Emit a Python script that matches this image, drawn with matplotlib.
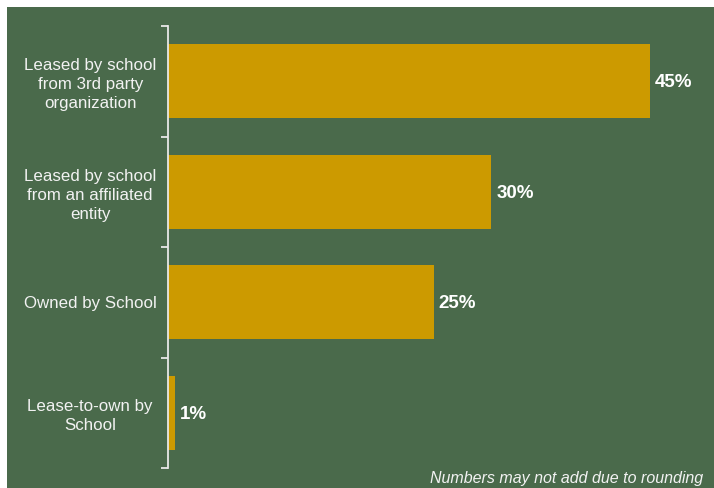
import matplotlib.pyplot as plt

categories = ['Leased by school\nfrom 3rd party\norganization',
              'Leased by school\nfrom an affiliated\nentity',
              'Owned by School',
              'Lease-to-own by\nSchool']
shares = [45, 30.2, 24.8, 0.7]
share_labels = ['45%', '30%', '25%', '1%']

bg = '#4a6a4b'
bar_color = '#cc9a00'
text_color = '#f2f2f2'

plt.rcParams['font.family'] = ['Liberation Sans', 'DejaVu Sans']

fig = plt.figure(figsize=(7.14, 4.88), dpi=100)
fig.patch.set_facecolor('white')
# green panel, leaving a thin white edge at top and left
fig.patches.append(plt.Rectangle((7 / 714, 0), 1, 1 - 7 / 488, transform=fig.transFigure,
                                 facecolor=bg, edgecolor='none', zorder=-10))

ax = fig.add_axes([168 / 714, 20 / 488, 546 / 714, 442 / 488])
ax.set_facecolor('none')

y = list(range(len(categories)))
ax.barh(y, shares, height=0.67, color=bar_color, zorder=2)
ax.set_ylim(len(categories) - 0.5, -0.5)
ax.set_xlim(0, 51)

for yi, v, lab in zip(y, shares, share_labels):
    ax.text(v + 0.45, yi + 0.015, lab, va='center', ha='left', color='white',
            fontsize=13.5, fontweight='bold')

# category boundaries as ticks
ax.set_yticks([i - 0.5 for i in range(len(categories) + 1)])
ax.set_yticklabels([])
ax.tick_params(axis='y', direction='out', length=5, width=1.3, color='#e8e8e8')
ax.set_yticks(y, minor=True)
ax.set_yticklabels(categories, minor=True, fontsize=12.2, color=text_color,
                   linespacing=1.33, ha='center')
ax.tick_params(axis='y', which='minor', length=0, pad=56)

ax.set_xticks([])
for side in ['top', 'right', 'bottom']:
    ax.spines[side].set_visible(False)
ax.spines['left'].set_color('#e8e8e8')
ax.spines['left'].set_linewidth(1.3)

fig.text(703 / 714, 9 / 488, 'Numbers may not add due to rounding', ha='right', va='center',
         fontsize=11.5, style='italic', color=text_color)

fig.savefig('out.png', dpi=100, facecolor=fig.get_facecolor())
